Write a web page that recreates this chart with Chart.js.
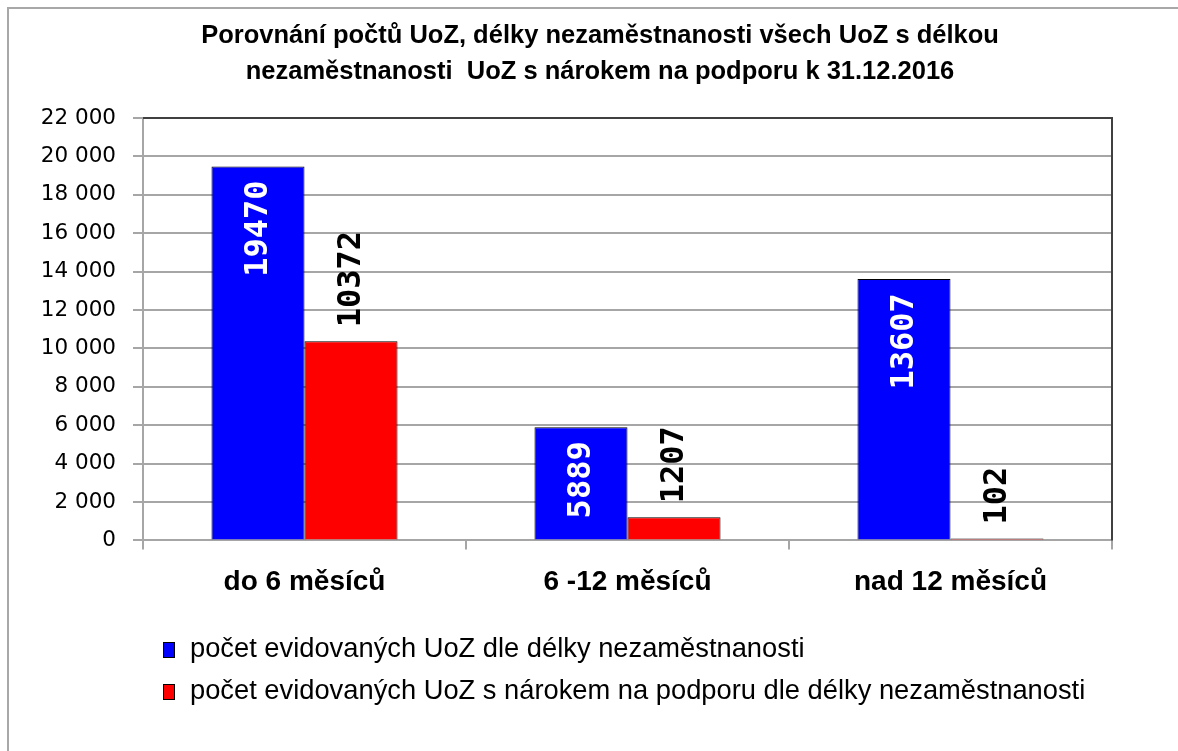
<!DOCTYPE html>
<html>
<head>
<meta charset="utf-8">
<script src="https://cdn.jsdelivr.net/npm/chart.js@4"></script>
<style>
  html, body { margin: 0; padding: 0; background: #fff; overflow: hidden; }
  #ramecek { position: absolute; left: 7px; top: 7px; width: 1300px; height: 900px; border: 2px solid #a8a8a8; }
  #obal { position: absolute; left: 0; top: 0; width: 1178px; height: 751px; }
  #legenda { position: absolute; left: 163px; top: 630px; font-family: "Liberation Sans", sans-serif; font-size: 27.3px; color: #000; }
  .polozka { height: 42px; line-height: 36px; white-space: nowrap; }
  .ctverec { display: inline-block; width: 10px; height: 14px; border: 1px solid #000; margin-right: 15px; vertical-align: -1px; }
</style>
</head>
<body>
<div id="ramecek"></div>
<div id="obal"><canvas id="graf"></canvas></div>
<div id="legenda"></div>

<script>
// data z grafu
const kategorie = ["do 6 měsíců", "6 -12 měsíců", "nad 12 měsíců"];
const vsichniUoZ = [19470, 5889, 13607];
const uozSNarokem = [10372, 1207, 102];
const nazvySerii = [
  "počet evidovaných UoZ dle délky nezaměstnanosti",
  "počet evidovaných UoZ s nárokem na podporu dle délky nezaměstnanosti"
];
const nadpis = [
  "Porovnání počtů UoZ, délky nezaměstnanosti všech UoZ s délkou",
  "nezaměstnanosti  UoZ s nárokem na podporu k 31.12.2016"
];

const pismoCalibri = "'Liberation Sans', sans-serif";

let formatTisice = (v) => String(v).replace(/\B(?=(\d{3})+(?!\d))/g, " ");

// popisky hodnot otocene o 90 stupnu
const popiskyHodnot = {
  id: "popiskyHodnot",
  afterDatasetsDraw(chart) {
    const ctx = chart.ctx;
    chart.data.datasets.forEach((ds, i) => {
      const meta = chart.getDatasetMeta(i);
      meta.data.forEach((bar, j) => {
        ctx.save();
        ctx.font = "bold 32px 'DejaVu Sans Mono', monospace";
        ctx.textBaseline = "middle";
        if (i == 0) {
          ctx.translate(bar.x + 1, bar.y + 14);
          ctx.rotate(-Math.PI / 2);
          ctx.textAlign = "right";
          ctx.fillStyle = "#fff";
        } else {
          ctx.translate(bar.x + 1, bar.y - 14);
          ctx.rotate(-Math.PI / 2);
          ctx.textAlign = "left";
          ctx.fillStyle = "#000";
        }
        ctx.fillText(String(ds.data[j]), 0, 0);
        ctx.restore();
      });
    });
  }
};

// tmavy okraj nahore a vpravo
const okrajPlochy = {
  id: "okrajPlochy",
  beforeDatasetsDraw(chart) {
    const a = chart.chartArea;
    const ctx = chart.ctx;
    ctx.save();
    ctx.strokeStyle = "#404040";
    ctx.lineWidth = 2;
    ctx.beginPath();
    ctx.moveTo(a.left, a.top);
    ctx.lineTo(a.right, a.top);
    ctx.lineTo(a.right, a.bottom);
    ctx.stroke();
    ctx.restore();
  }
};

// nadpis vycentrovany na cely ramecek, ne jen na graf
const posunNadpisu = {
  id: "posunNadpisu",
  afterLayout(chart) {
    if (chart.titleBlock) {
      chart.titleBlock.left = 44;
      chart.titleBlock.right = 1156;
    }
  }
};

const data = {
  labels: kategorie,
  datasets: [
    {
      label: nazvySerii[0],
      data: vsichniUoZ,
      backgroundColor: "#0000ff",
      borderColor: "#000",
      borderWidth: 1
    },
    {
      label: nazvySerii[1],
      data: uozSNarokem,
      backgroundColor: "#ff0000",
      borderColor: "#000",
      borderWidth: 1
    }
  ]
};

const config = {
  type: "bar",
  data: data,
  options: {
    responsive: true,
    maintainAspectRatio: false,
    animation: false,
    layout: { padding: { top: 17, right: 66, bottom: 136, left: 0 } },
    datasets: { bar: { categoryPercentage: 0.576, barPercentage: 1 } },
    plugins: {
      legend: { display: false },
      tooltip: { enabled: false },
      title: {
        display: true,
        text: nadpis,
        color: "#000",
        font: { family: pismoCalibri, size: 25.5, weight: "bold", lineHeight: 1.45 },
        padding: { top: 0, bottom: 27 }
      }
    },
    scales: {
      x: {
        grid: { offset: true, drawOnChartArea: false, drawTicks: true, tickLength: 9, color: "#a6a6a6", lineWidth: 2 },
        border: { color: "#a6a6a6", width: 2 },
        ticks: { color: "#000", padding: 16, font: { family: pismoCalibri, size: 28, weight: "bold" } }
      },
      y: {
        min: 0,
        max: 22000,
        afterFit: (scale) => { scale.width = 143; },
        grid: { color: "#a6a6a6", lineWidth: 2, tickLength: 10 },
        border: { color: "#a6a6a6", width: 2 },
        ticks: {
          stepSize: 2000,
          color: "#000",
          padding: 17,
          font: { family: "'DejaVu Sans', sans-serif", size: 21.5 },
          callback: (v) => formatTisice(v)
        }
      }
    }
  },
  plugins: [okrajPlochy, popiskyHodnot, posunNadpisu]
};

const mujGraf = new Chart(document.getElementById("graf"), config);

// legenda pod grafem
let legenda = document.getElementById("legenda");
data.datasets.forEach(ds => {
  let radek = document.createElement("div");
  radek.classList.add("polozka");
  radek.innerHTML = `<span class="ctverec" style="background:${ds.backgroundColor}"></span>${ds.label}`;
  legenda.appendChild(radek);
});
</script>
</body>
</html>
